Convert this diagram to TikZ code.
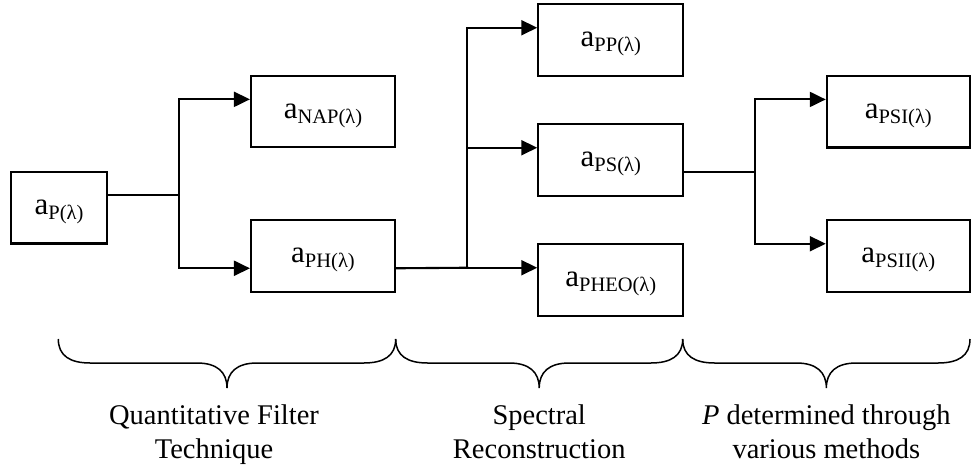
\documentclass[tikz,border=0pt]{standalone}
\usepackage{fontspec}
\setmainfont{Liberation Serif}
\usetikzlibrary{arrows.meta,calc}
\tikzset{
  box/.style={draw, line width=2.1pt, minimum height=71.5pt, inner sep=0pt,
    text height=20pt, text depth=6.4pt, font=\fontsize{31}{36}\selectfont},
  conn/.style={line width=2.1pt, line cap=rect},
  arr/.style={conn, -{Triangle[length=16pt,width=15pt]}},
  bracestyle/.style={line width=1.5pt},
  lab/.style={align=center, anchor=north, inner sep=0pt, font=\fontsize{28.5}{34}\selectfont},
}
\newcommand\subx[1]{\raisebox{-5pt}{\fontsize{20.5}{24}\selectfont #1}}
\newcommand\hbrace[2]{%
  \draw[bracestyle] (#1,339) .. controls (#1,356) and ({#1+12},363) .. ({#1+32},363)
    -- ({(#1+#2)/2-30},363) .. controls ({(#1+#2)/2-10},363) and ({(#1+#2)/2},372) .. ({(#1+#2)/2},388)
    .. controls ({(#1+#2)/2},372) and ({(#1+#2)/2+10},363) .. ({(#1+#2)/2+30},363)
    -- ({#2-32},363) .. controls ({#2-12},363) and (#2,356) .. (#2,339);}
\begin{document}
\begin{tikzpicture}[x=1pt,y=-1pt]
\useasboundingbox (0,0) rectangle (971,469);
% boxes
\node[box, minimum width=96.5pt] (aP)    at (59,207.7)    {a\subx{P(λ)}};
\node[box, minimum width=144pt]  (aNAP)  at (323,111.6)   {a\subx{NAP(λ)}};
\node[box, minimum width=144pt]  (aPH)   at (323,256)     {a\subx{PH(λ)}};
\node[box, minimum width=145pt]  (aPP)   at (610.8,40)    {a\subx{PP(λ)}};
\node[box, minimum width=145pt]  (aPS)   at (610.8,160)   {a\subx{PS(λ)}};
\node[box, minimum width=145pt]  (aPHEO) at (610.8,280)   {a\subx{PHEO(λ)}};
\node[box, minimum width=143pt] (aPSI)  at (898.3,111.7) {a\subx{PSI(λ)}};
\node[box, minimum width=143pt] (aPSII) at (898.3,256)   {a\subx{PSII(λ)}};
% junction columns
\coordinate (j1) at (179,0);
\coordinate (j2) at (467.3,0);
\coordinate (j3) at (755,0);
% attachment points
\coordinate (s1)  at ($(aP.north east)!1/3!(aP.south east)$);
\coordinate (t1a) at ($(aNAP.north west)!1/3!(aNAP.south west)$);
\coordinate (t1b) at ($(aPH.north west)!2/3!(aPH.south west)$);
\coordinate (s2)  at ($(aPH.north east)!2/3!(aPH.south east)$);
\coordinate (t2a) at ($(aPP.north west)!1/3!(aPP.south west)$);
\coordinate (t2b) at ($(aPS.north west)!1/3!(aPS.south west)$);
\coordinate (t2c) at ($(aPHEO.north west)!1/3!(aPHEO.south west)$);
\coordinate (s3)  at ($(aPS.north east)!2/3!(aPS.south east)$);
\coordinate (t3a) at ($(aPSI.north west)!1/3!(aPSI.south west)$);
\coordinate (t3b) at ($(aPSII.north west)!1/3!(aPSII.south west)$);
% connectors
\draw[conn] (s1) -- (s1 -| j1);
\draw[arr] (t1b -| j1) |- (t1a);
\draw[arr] (t1b -| j1) -- (t1b);
\draw[conn] (s2) -- (t2c -| j2);
\draw[arr] (t2c -| j2) |- (t2a);
\draw[arr] (t2b -| j2) -- (t2b);
\draw[arr] (t2c -| j2) -- (t2c);
\draw[conn] (s3) -- (s3 -| j3);
\draw[arr] (t3b -| j3) |- (t3a);
\draw[arr] (t3b -| j3) -- (t3b);
% braces
\hbrace{58.3}{395.7}
\hbrace{395.7}{682.7}
\hbrace{682.7}{970}
% labels
\node[lab] (l1) at (214,405) {Quantitative Filter\\Technique};
\node[lab] (l2) at (539.2,405) {Spectral\\Reconstruction};
\node[lab] (l3) at (826.3,405) {\textit{P} determined through\\various methods};
\end{tikzpicture}
\end{document}
